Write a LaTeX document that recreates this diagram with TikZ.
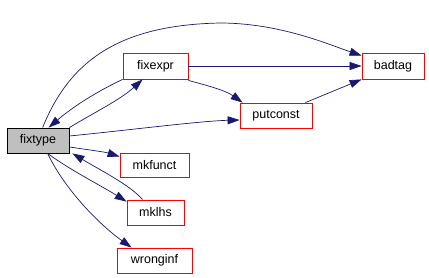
\documentclass[tikz,border=0pt]{standalone}
\usepackage{fontspec}
\setmainfont{Liberation Sans}
\usetikzlibrary{arrows.meta}
\definecolor{edgeblue}{HTML}{191970}
\begin{document}
\begin{tikzpicture}[x=1pt,y=-1pt,
  fn/.style={draw=red,line width=0.8pt,fill=white,inner sep=0pt,font=\fontsize{12.5}{14}\selectfont},
  cur/.style={draw=black,line width=0.8pt,fill={rgb,255:red,191;green,191;blue,191},inner sep=0pt,font=\fontsize{12.5}{14}\selectfont},
  edge/.style={draw=edgeblue,line width=0.7pt,-{Triangle[length=12pt,width=8pt]}}]
\useasboundingbox (0,0) rectangle (429,277);
\node[cur,minimum width=62pt,minimum height=25pt] (fixtype) at (38,140.5) {fixtype};
\node[fn,minimum width=65pt,minimum height=26pt] (fixexpr) at (155.5,66) {fixexpr};
\node[fn,minimum width=62pt,minimum height=26pt] (badtag) at (393,66) {badtag};
\node[fn,minimum width=72pt,minimum height=25pt] (putconst) at (276,115.5) {putconst};
\node[fn,minimum width=69pt,minimum height=24pt] (mkfunct) at (154.5,165) {mkfunct};
\node[fn,minimum width=57pt,minimum height=25pt] (mklhs) at (155.5,212.5) {mklhs};
\node[fn,minimum width=75pt,minimum height=25pt] (wronginf) at (154.5,260.5) {wronginf};
% fixtype -> badtag
\draw[edge] ([xshift=36pt]fixtype.north west) .. controls (70,60) and (120,25) .. (220,23)
  .. controls (280,23) and (330,45) .. ([yshift=-3pt]badtag.north west);
% fixtype -> fixexpr
\draw[edge] (fixtype.north east) .. controls (95,112) and (120,100) .. ([xshift=20pt]fixexpr.south west);
% fixexpr -> fixtype
\draw[edge] (fixexpr.south west) .. controls (100,90) and (75,105) .. ([xshift=42pt]fixtype.north west);
% fixexpr -> badtag
\draw[edge] (fixexpr.east) -- (badtag.west);
% fixexpr -> putconst
\draw[edge] ([yshift=-1pt]fixexpr.south east) .. controls (205,85) and (225,90) .. ([xshift=3pt]putconst.north west);
% putconst -> badtag
\draw[edge] ([xshift=-7pt]putconst.north east) -- (badtag.south west);
% fixtype -> putconst
\draw[edge] ([yshift=4.5pt]fixtype.east) .. controls (130,130) and (200,121) .. ([yshift=-4.5pt]putconst.west);
% fixtype -> mkfunct
\draw[edge] ([yshift=-6.5pt]fixtype.east) .. controls (90,150) and (105,152) .. ([yshift=-4pt]mkfunct.north west);
% mklhs -> fixtype
\draw[edge] ([xshift=16pt]mklhs.north west) .. controls (130,185) and (100,170) .. ([xshift=3pt]fixtype.south east);
% fixtype -> mklhs
\draw[edge] ([xshift=41pt]fixtype.south west) .. controls (70,170) and (100,185) .. ([yshift=-2pt]mklhs.north west);
% fixtype -> wronginf
\draw[edge] ([xshift=41pt]fixtype.south west) .. controls (65,190) and (100,225) .. ([xshift=15pt]wronginf.north west);
\end{tikzpicture}
\end{document}
